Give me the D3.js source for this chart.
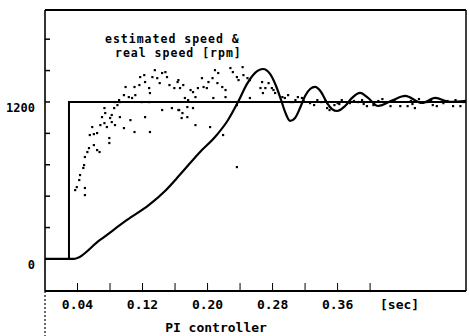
<!DOCTYPE html>
<html><head><meta charset="utf-8">
<script src="https://cdn.jsdelivr.net/npm/d3@7"></script>
<style>
html,body{margin:0;padding:0;background:#fff;}
svg text{font-family:"DejaVu Sans Mono",monospace;font-weight:bold;fill:#000;}
</style></head>
<body><svg id="c" width="469" height="336"></svg>
<script>
// reference speed (step command), rpm
const refT = [0, 0.0295, 0.0295, 0.518];
const refV = [0, 0, 1200, 1200];
// real speed (solid line), rpm
const realT = [0, 0.0345, 0.0677, 0.1009, 0.128, 0.1477, 0.1662, 0.1908, 0.2092, 0.2252, 0.2375, 0.2486, 0.2585, 0.2683, 0.2769, 0.2843, 0.2905, 0.2954, 0.3015, 0.3077, 0.3138, 0.32, 0.3262, 0.3323, 0.3397, 0.3471, 0.3532, 0.3594, 0.3692, 0.3778, 0.3877, 0.3975, 0.4098, 0.4283, 0.4431, 0.464, 0.48, 0.4985, 0.518];
const realV = [0, 0, 145, 298, 413, 520, 645, 818, 932, 1062, 1200, 1338, 1422, 1452, 1414, 1322, 1215, 1124, 1055, 1078, 1154, 1246, 1299, 1315, 1276, 1192, 1146, 1131, 1169, 1231, 1269, 1231, 1169, 1215, 1246, 1192, 1231, 1200, 1208];
// estimated speed (dots), rpm
const estT = [0.037,0.039,0.049,0.049,0.042,0.043,0.047,0.048,0.049,0.052,0.054,0.060,0.064,0.067,0.055,0.060,0.064,0.058,0.068,0.073,0.076,0.079,0.079,0.070,0.074,0.073,0.080,0.082,0.082,0.086,0.092,0.097,0.085,0.089,0.092,0.086,0.097,0.103,0.107,0.111,0.099,0.110,0.116,0.117,0.122,0.123,0.128,0.129,0.135,0.132,0.138,0.144,0.148,0.150,0.141,0.153,0.159,0.163,0.123,0.129,0.110,0.105,0.144,0.156,0.165,0.128,0.119,0.091,
0.164,0.166,0.170,0.179,0.182,0.188,0.193,0.195,0.199,0.201,0.206,0.209,0.213,0.212,0.218,0.222,0.228,0.231,0.236,0.243,0.244,0.249,0.238,0.252,0.176,0.185,0.172,0.207,0.222,0.175,0.182,0.169,0.175,0.164,0.185,0.203,0.219,0.168,0.236,0.252,0.265,0.267,0.275,0.279,0.268,0.271,0.281,0.283,0.292,0.295,0.302,0.305,0.311,0.316,0.299,0.236,
0.326,0.331,0.347,0.350,0.356,0.375,0.396,0.404,0.425,0.437,0.446,0.455,0.477,0.482,0.490,0.502,0.511,
0.308,0.318,0.335,0.340,0.345,0.360,0.365,0.380,0.385,0.390,0.410,0.415,0.420,0.430,0.450,0.460,0.470,0.475,0.495,0.505,0.515,0.392,0.452,0.362,0.418];
const estV = [527,550,543,489,604,642,696,718,780,818,848,871,833,818,948,955,963,1009,1024,1039,1009,925,887,1085,1116,1154,1078,1047,1101,1024,1085,1001,1154,1177,1200,1200,1253,1238,1231,1253,1315,1315,1330,1391,1406,1353,1307,1269,1444,1391,1383,1422,1429,1391,1345,1330,1307,1353,1085,971,971,1062,1139,1154,1139,1200,1200,1215,
1368,1307,1330,1292,1276,1307,1383,1315,1307,1353,1383,1444,1422,1345,1315,1292,1460,1429,1391,1467,1406,1383,1368,1368,1215,1238,1231,1231,1238,1162,1154,1116,1085,1139,1024,1009,948,1078,1177,1231,1307,1353,1345,1307,1269,1307,1292,1269,1238,1231,1200,1200,1238,1231,1253,703,
1192,1177,1154,1139,1177,1192,1169,1177,1169,1169,1169,1154,1177,1169,1192,1169,1169,
1215,1208,1215,1200,1208,1192,1215,1208,1200,1215,1208,1223,1200,1215,1208,1223,1200,1215,1208,1215,1200,1185,1185,1185,1192];
// axis ticks and labels
const yTicks = [240, 480, 720, 960, 1200, 1440, 1680];
const yLabels = [0, 1200];
const xTicks = [0.04, 0.08, 0.12, 0.16, 0.20, 0.24, 0.28, 0.32, 0.36, 0.40];
const xLabels = [0.04, 0.12, 0.20, 0.28, 0.36];
const xUnit = {t: 0.44, text: "[sec]"};
const titleLines = ["estimated speed &", "real speed [rpm]"];
const xTitle = "PI controller";

const svg = d3.select("#c");
const x = d3.scaleLinear().domain([0, 0.518]).range([45, 466]);
const y = d3.scaleLinear().domain([-245, 1903]).range([291, 10]);

// frame
const L = x(0), R = x(0.518), T = y(1903), B = y(-245);
svg.append("line").attr("x1", L).attr("x2", R).attr("y1", T).attr("y2", T).attr("stroke", "#000").attr("stroke-width", 2);
svg.append("line").attr("x1", R).attr("x2", R).attr("y1", T).attr("y2", B).attr("stroke", "#000").attr("stroke-width", 1.5);
svg.append("line").attr("x1", L).attr("x2", R).attr("y1", B).attr("y2", B).attr("stroke", "#000").attr("stroke-width", 2);
svg.append("line").attr("x1", L).attr("x2", L).attr("y1", T).attr("y2", B).attr("stroke", "#000").attr("stroke-width", 1.6);
svg.append("line").attr("x1", L).attr("x2", L).attr("y1", B).attr("y2", 336).attr("stroke", "#000").attr("stroke-width", 1.2).attr("stroke-dasharray", "2,2");

// y ticks (inward)
svg.selectAll(".yt").data(yTicks).enter().append("line")
  .attr("x1", L).attr("x2", L + 5).attr("y1", d => y(d)).attr("y2", d => y(d))
  .attr("stroke", "#000").attr("stroke-width", 1.5);
svg.selectAll(".yl").data(yLabels).enter().append("text")
  .attr("x", 35).attr("y", d => y(d) + 10).attr("text-anchor", "end")
  .attr("font-size", 12).text(d => d);

// x ticks (inward)
svg.selectAll(".xt").data(xTicks).enter().append("line")
  .attr("x1", d => x(d)).attr("x2", d => x(d)).attr("y1", B).attr("y2", B - 8)
  .attr("stroke", "#000").attr("stroke-width", 1);
svg.selectAll(".xl").data(xLabels).enter().append("text")
  .attr("x", d => x(d)).attr("y", 309).attr("text-anchor", "middle")
  .attr("font-size", 13).text(d => d.toFixed(2));
svg.append("text").attr("x", x(xUnit.t) - 3).attr("y", 309).attr("text-anchor", "middle")
  .attr("font-size", 13).text(xUnit.text);
svg.append("text").attr("x", 216).attr("y", 332).attr("text-anchor", "middle")
  .attr("font-size", 13).text(xTitle);

// title inside plot
svg.append("text").attr("x", 105).attr("y", 43).attr("font-size", 11.5).attr("letter-spacing", 1).text(titleLines[0]);
svg.append("text").attr("x", 115).attr("y", 57).attr("font-size", 11.5).attr("letter-spacing", 1).text(titleLines[1]);

// reference step
const line = d3.line().x(d => x(d[0])).y(d => y(d[1]));
svg.append("path").datum(refT.map((t, i) => [t, refV[i]])).attr("d", line)
  .attr("fill", "none").attr("stroke", "#000").attr("stroke-width", 2);

// real speed
const curve = d3.line().x(d => x(d[0])).y(d => y(d[1])).curve(d3.curveMonotoneX);
svg.append("path").datum(realT.map((t, i) => [t, realV[i]])).attr("d", curve)
  .attr("fill", "none").attr("stroke", "#000").attr("stroke-width", 2.2);

// estimated speed dots
svg.selectAll(".dot").data(estT.map((t, i) => [t, estV[i]])).enter().append("rect")
  .attr("x", d => x(d[0]) - 1).attr("y", d => y(d[1]) - 1)
  .attr("width", 2.2).attr("height", 2.2).attr("fill", "#000");
</script></body></html>
